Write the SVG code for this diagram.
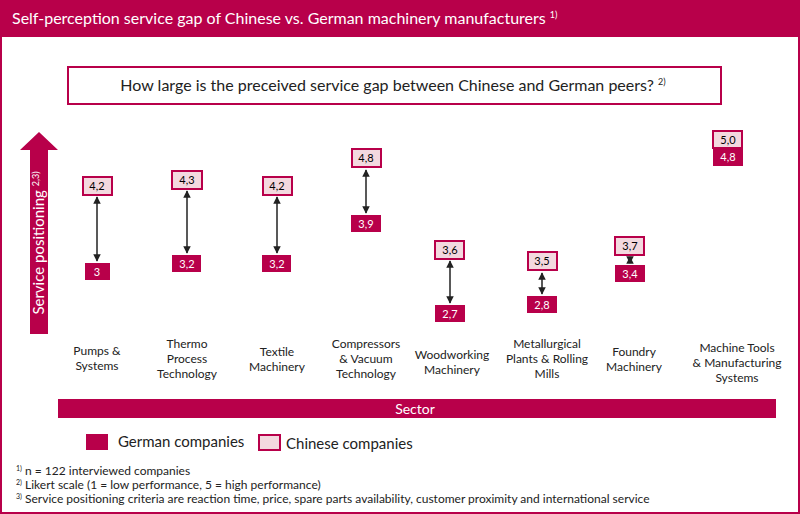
<svg xmlns="http://www.w3.org/2000/svg" width="800" height="514" viewBox="0 0 800 514">
<defs>
<style>
text{font-family:Lato,"Open Sans","Liberation Sans",sans-serif}
.cn{fill:#f3d9df;stroke:#b8004a;stroke-width:2}
.de{fill:#b8004a}
.v{font-size:11px;text-anchor:middle}
.vw{font-size:11px;text-anchor:middle;fill:#fff}
.lab{font-size:12px;text-anchor:middle;fill:#222}
.ar{stroke:#222;stroke-width:1.5;marker-start:url(#ah);marker-end:url(#ah)}
.fn{font-size:12px;fill:#222}
</style>
<marker id="ah" viewBox="0 0 10 10" refX="9" refY="5" markerWidth="5" markerHeight="5" orient="auto-start-reverse"><path d="M0,0L10,5L0,10z" fill="#222"/></marker>
</defs>
<rect x="0" y="0" width="800" height="514" fill="#fff"/>
<rect x="1" y="1" width="798" height="512" fill="none" stroke="#b8004a" stroke-width="2"/>
<rect x="0" y="0" width="800" height="37" fill="#b8004a"/>
<text x="12" y="24" font-size="16" fill="#fff">Self-perception service gap of Chinese vs. German machinery manufacturers <tspan font-size="9" dy="-6">1)</tspan></text>
<g id="question">
<rect x="68" y="67" width="653" height="37" fill="#fff" stroke="#b8004a" stroke-width="2"/>
<text x="393" y="91" font-size="16" text-anchor="middle" fill="#222">How large is the preceived service gap between Chinese and German peers? <tspan font-size="9" dy="-6">2)</tspan></text>
</g>
<g id="yaxis">
<path d="M30,150H20L39,132L58,150H48V334H30Z" fill="#b8004a"/>
<text transform="translate(44,243) rotate(-90)" font-size="15" fill="#fff" text-anchor="middle">Service positioning <tspan font-size="9" dy="-5">2,3)</tspan></text>
</g>
<g id="connectors">
<line class="ar" x1="97" y1="197" x2="97" y2="261"/>
<line class="ar" x1="187" y1="191" x2="187" y2="253"/>
<line class="ar" x1="277" y1="197" x2="277" y2="253"/>
<line class="ar" x1="366" y1="170" x2="366" y2="213"/>
<line class="ar" x1="450" y1="261" x2="450" y2="303"/>
<line class="ar" x1="542" y1="273" x2="542" y2="294"/>
<line class="ar" x1="630" y1="257" x2="630" y2="263"/>
</g>
<g id="pumps">
<rect class="cn" x="83" y="177" width="29" height="18"/><text class="v" x="97" y="190">4,2</text>
<rect class="de" x="85" y="263" width="25" height="17"/><text class="vw" x="97" y="276">3</text>
<text class="lab" x="97" y="355">Pumps &amp;</text><text class="lab" x="97" y="370">Systems</text>
</g>
<g id="thermo">
<rect class="cn" x="172" y="171" width="30" height="18"/><text class="v" x="187" y="184">4,3</text>
<rect class="de" x="172" y="255" width="29" height="17"/><text class="vw" x="187" y="268">3,2</text>
<text class="lab" x="187" y="348">Thermo</text><text class="lab" x="187" y="363">Process</text><text class="lab" x="187" y="378">Technology</text>
</g>
<g id="textile">
<rect class="cn" x="263" y="177" width="29" height="18"/><text class="v" x="277" y="190">4,2</text>
<rect class="de" x="262" y="255" width="29" height="17"/><text class="vw" x="277" y="268">3,2</text>
<text class="lab" x="277" y="356">Textile</text><text class="lab" x="277" y="371">Machinery</text>
</g>
<g id="compressors">
<rect class="cn" x="352" y="149" width="29" height="18"/><text class="v" x="366" y="162">4,8</text>
<rect class="de" x="351" y="215" width="30" height="17"/><text class="vw" x="366" y="228">3,9</text>
<text class="lab" x="366" y="348">Compressors</text><text class="lab" x="366" y="363">&amp; Vacuum</text><text class="lab" x="366" y="378">Technology</text>
</g>
<g id="woodworking">
<rect class="cn" x="435" y="241" width="29" height="18"/><text class="v" x="450" y="254">3,6</text>
<rect class="de" x="435" y="305" width="30" height="17"/><text class="vw" x="450" y="318">2,7</text>
<text class="lab" x="452" y="359">Woodworking</text><text class="lab" x="452" y="374">Machinery</text>
</g>
<g id="metallurgical">
<rect class="cn" x="528" y="252" width="29" height="18"/><text class="v" x="542" y="265">3,5</text>
<rect class="de" x="527" y="296" width="30" height="17"/><text class="vw" x="542" y="309">2,8</text>
<text class="lab" x="547" y="348">Metallurgical</text><text class="lab" x="547" y="363">Plants &amp; Rolling</text><text class="lab" x="547" y="378">Mills</text>
</g>
<g id="foundry">
<rect class="cn" x="615" y="237" width="29" height="18"/><text class="v" x="630" y="250">3,7</text>
<rect class="de" x="615" y="265" width="30" height="17"/><text class="vw" x="630" y="278">3,4</text>
<text class="lab" x="634" y="356">Foundry</text><text class="lab" x="634" y="371">Machinery</text>
</g>
<g id="machinetools">
<rect class="cn" x="713" y="131" width="29" height="17"/><text class="v" x="728" y="144">5,0</text>
<rect class="de" x="713" y="148" width="30" height="18"/><text class="vw" x="728" y="161">4,8</text>
<text class="lab" x="737" y="352">Machine Tools</text><text class="lab" x="737" y="367">&amp; Manufacturing</text><text class="lab" x="737" y="382">Systems</text>
</g>
<g id="sector">
<rect x="58" y="399" width="718" height="19" fill="#b8004a"/>
<text x="415" y="414" font-size="14" fill="#fff" text-anchor="middle">Sector</text>
</g>
<g id="legend">
<rect class="de" x="86" y="434" width="22" height="16"/>
<text x="118" y="447" font-size="15" fill="#222">German companies</text>
<rect class="cn" x="259" y="435" width="21" height="15"/>
<text x="286" y="449" font-size="15" fill="#222">Chinese companies</text>
</g>
<g id="footnotes">
<text class="fn" x="16" y="475"><tspan font-size="7" dy="-4">1)</tspan><tspan dy="4"> n = 122 interviewed companies</tspan></text>
<text class="fn" x="16" y="489"><tspan font-size="7" dy="-4">2)</tspan><tspan dy="4"> Likert scale (1 = low performance, 5 = high performance)</tspan></text>
<text class="fn" x="16" y="503"><tspan font-size="7" dy="-4">3)</tspan><tspan dy="4"> Service positioning criteria are reaction time, price, spare parts availability, customer proximity and international service</tspan></text>
</g>
</svg>
